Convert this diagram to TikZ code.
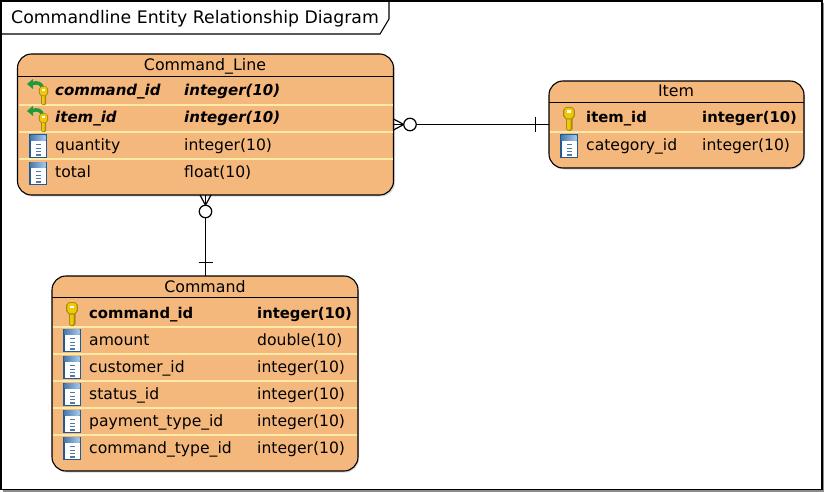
\documentclass[tikz,border=0pt]{standalone}
\usepackage{fontspec}
\setmainfont{DejaVu Sans}
\usetikzlibrary{calc}
\definecolor{entfill}{HTML}{F4B77C}
\definecolor{rowsep}{HTML}{FFEAA8}
\definecolor{keygold}{HTML}{EFC808}
\definecolor{keydark}{HTML}{A88A10}
\definecolor{colblue}{HTML}{1F5A96}
\definecolor{collight}{HTML}{7FB2E6}
\definecolor{fkgreen}{HTML}{1F9A3C}
\tikzset{
  x=1pt,y=-1pt,
  entity/.style={draw=black,line width=1.1pt,fill=entfill,rounded corners=14pt,inner sep=0pt,outer sep=0pt},
  entshadow/.style={fill=black!15,rounded corners=14pt},
  head/.style={anchor=base,inner sep=0pt,font=\fontsize{15.8}{16}\selectfont},
  rowtxt/.style={anchor=base west,inner sep=0pt,font=\fontsize{15.6}{16}\selectfont},
  pk/.style={rowtxt,font=\fontsize{14.8}{16}\selectfont\bfseries},
  fk/.style={rowtxt,font=\fontsize{15}{16}\selectfont\bfseries\itshape},
  sepline/.style={draw=rowsep,line width=1.2pt},
  headline/.style={draw=black,line width=.9pt},
  conn/.style={draw=black,line width=1.2pt},
  ringmark/.style={circle,draw=black,line width=1.2pt,fill=white,minimum size=12.5pt,inner sep=0pt,outer sep=0pt},
}
\newcommand{\keyshape}{%
    \fill[keydark] (-3,-2) -- (3.5,-2) -- (3.5,11) -- (1.5,13) -- (-1,13) -- (-3,11) -- cycle;
    \fill[keygold] (-1.8,-2) -- (1.6,-2) -- (1.6,11) -- (-.5,12) -- (-1.8,11) -- cycle;
    \fill[keydark] (-5.8,-8) -- (-3,-11) -- (3,-11) -- (5.8,-8) -- (5.8,-2) -- (3,1.5) -- (-3,1.5) -- (-5.8,-2) -- cycle;
    \fill[keygold] (-4.6,-8) -- (-2.5,-10) -- (2.5,-10) -- (4.6,-8) -- (4.6,-2.5) -- (2.5,.4) -- (-2.5,.4) -- (-4.6,-2.5) -- cycle;
    \fill[white] (-2,-7.5) rectangle (2,-5);}
\newcommand{\keyicon}[2]{%
  \begin{scope}[shift={(#1,#2)}]\keyshape\end{scope}}
\newcommand{\fkicon}[2]{%
  \begin{scope}[shift={(#1,#2)}]
    \draw[fkgreen,line width=3.5pt] (-.5,-6) .. controls (-2,-12) and (-6,-13) .. (-11,-11.5);
    \fill[fkgreen] (-10.5,-16) -- (-16.5,-11) -- (-10.5,-6) -- cycle;
  \end{scope}
  \begin{scope}[shift={(#1,#2)},scale=.78]\keyshape\end{scope}}
\newcommand{\colicon}[2]{%
  \begin{scope}[shift={(#1,#2)}]
    \fill[colblue] (-9,-11.5) rectangle (9,12);
    \fill[white] (-7.5,-5) rectangle (7.5,10.5);
    \shade[left color=colblue!80,right color=collight!70] (-7.5,-10.5) rectangle (7.5,-5.5);
    \foreach \yy in {-2,1.5,5}{\fill[colblue!80] (-2.5,\yy) rectangle (3,\yy+1);}
    \fill[colblue!80] (-2.5,7.5) rectangle (3,10);
  \end{scope}}
\begin{document}
\begin{tikzpicture}
\useasboundingbox (0,0) rectangle (824,492);
% frame
\fill[black!45] (3,3) rectangle (824,491.5);
\node[draw=black,line width=1.1pt,fill=white,minimum width=821pt,minimum height=488.5pt,inner sep=0pt,outer sep=0pt] (frame) at (411.5,245.25) {};
\coordinate (tabA) at (frame.north west|-0,34);
\coordinate (tabB) at (380,34);
\coordinate (tabC) at (389,19);
\coordinate (tabD) at (tabC|-frame.north);
\draw[line width=1.1pt] (tabA) -- (tabB) -- (tabC) -- (tabD);
\node[anchor=base west,inner sep=0pt,font=\fontsize{17.3}{18}\selectfont] (title) at (11,24) {Commandline Entity Relationship Diagram};

% entity shadows
\fill[entshadow] (18.5,56) rectangle (395,196.5);
\fill[entshadow] (550,83) rectangle (805,169.5);
\fill[entshadow] (53,278) rectangle (359,472.5);

% entities
\node[entity,minimum width=376pt,minimum height=141pt] (cl) at (205.5,124.5) {};
\node[entity,minimum width=255pt,minimum height=87pt] (item) at (676.5,124.5) {};
\node[entity,minimum width=306pt,minimum height=195pt] (cmd) at (205,373.5) {};

% Command_Line
\draw[headline] (cl.west|-0,76) -- (cl.east|-0,76);
\foreach \yy in {105,132,159}{\draw[sepline] (19,\yy) -- (393,\yy);}
\node[head] (clh) at (205,71) {Command\_Line};
\fkicon{43.5}{95}
\node[fk] (cl1a) at (55,96) {command\_id};
\node[fk] (cl1b) at (184,96) {integer(10)};
\fkicon{43.5}{122}
\node[fk] (cl2a) at (55,123) {item\_id};
\node[fk] (cl2b) at (184,123) {integer(10)};
\colicon{38}{146}
\node[rowtxt] (cl3a) at (55,150) {quantity};
\node[rowtxt] (cl3b) at (184,150) {integer(10)};
\colicon{38}{173}
\node[rowtxt] (cl4a) at (55,177) {total};
\node[rowtxt] (cl4b) at (184,177) {float(10)};

% Item
\draw[headline] (item.west|-0,102.5) -- (item.east|-0,102.5);
\draw[sepline] (550,132) -- (803,132);
\node[head] (ith) at (676,97) {Item};
\keyicon{569}{118}
\node[pk] (it1a) at (586,123) {item\_id};
\node[pk] (it1b) at (702,123) {integer(10)};
\colicon{569}{146}
\node[rowtxt] (it2a) at (586,150) {category\_id};
\node[rowtxt] (it2b) at (702,150) {integer(10)};

% Command
\draw[headline] (cmd.west|-0,297.5) -- (cmd.east|-0,297.5);
\foreach \yy in {327,354,381,408,435}{\draw[sepline] (53,\yy) -- (357,\yy);}
\node[head] (cmh) at (205,292) {Command};
\keyicon{72}{313}
\node[pk] (cm1a) at (89,318) {command\_id};
\node[pk] (cm1b) at (257,318) {integer(10)};
\colicon{72}{340}
\node[rowtxt] (cm2a) at (89,345) {amount};
\node[rowtxt] (cm2b) at (257,345) {double(10)};
\colicon{72}{367}
\node[rowtxt] (cm3a) at (89,372) {customer\_id};
\node[rowtxt] (cm3b) at (257,372) {integer(10)};
\colicon{72}{394}
\node[rowtxt] (cm4a) at (89,399) {status\_id};
\node[rowtxt] (cm4b) at (257,399) {integer(10)};
\colicon{72}{421}
\node[rowtxt] (cm5a) at (89,426) {payment\_type\_id};
\node[rowtxt] (cm5b) at (257,426) {integer(10)};
\colicon{72}{448}
\node[rowtxt] (cm6a) at (89,453) {command\_type\_id};
\node[rowtxt] (cm6b) at (257,453) {integer(10)};

% connector Command_Line -- Item
\draw[conn] (cl.east) -- (item.west);
\node[ringmark] (ringA) at (410,124.5) {};
\draw[conn] (ringA.west) -- ($(cl.east)+(0,-5.5)$);
\draw[conn] (ringA.west) -- ($(cl.east)+(0,5.5)$);
\coordinate (barA) at (535.5,124.5);
\draw[conn] ($(barA)+(0,-7.5)$) -- ($(barA)+(0,7.5)$);

% connector Command_Line -- Command
\draw[conn] (cl.south) -- (cl.south|-cmd.north);
\node[ringmark] (ringB) at (205.5,211.5) {};
\draw[conn] (ringB.north) -- ($(cl.south)+(-5.5,0)$);
\draw[conn] (ringB.north) -- ($(cl.south)+(5.5,0)$);
\coordinate (barB) at (205.5,262.5);
\draw[conn] ($(barB)+(-7,0)$) -- ($(barB)+(7,0)$);
\end{tikzpicture}
\end{document}
